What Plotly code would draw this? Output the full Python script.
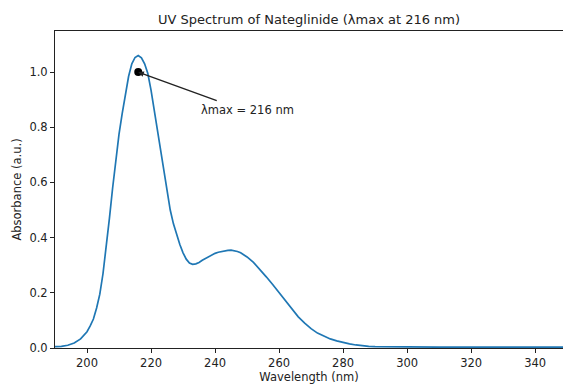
import plotly.graph_objects as go

# Wavelength (nm) and absorbance (a.u.)
wavelength = [190, 192, 194, 196, 198, 200, 201, 202, 203, 204, 205, 206, 207, 208, 209,
              210, 211, 212, 213, 214, 215, 216, 217, 218, 219, 220, 221, 222, 223, 224,
              225, 226, 227, 228, 229, 230, 231, 232, 233, 234, 235, 236, 237, 238, 239,
              240, 241, 242, 243, 244, 245, 246, 247, 248, 249, 250, 252, 254, 256, 258,
              260, 262, 264, 266, 268, 270, 272, 274, 276, 278, 280, 282, 284, 286, 288,
              290, 295, 300, 310, 320, 330, 340, 350]
absorbance = [0.005, 0.006, 0.010, 0.018, 0.033, 0.059, 0.080, 0.105, 0.145, 0.195, 0.270,
              0.360, 0.470, 0.580, 0.680, 0.775, 0.850, 0.920, 0.985, 1.030, 1.053, 1.060,
              1.052, 1.030, 0.995, 0.935, 0.862, 0.790, 0.712, 0.632, 0.560, 0.500, 0.450,
              0.410, 0.375, 0.345, 0.322, 0.308, 0.303, 0.305, 0.310, 0.318, 0.325, 0.332,
              0.338, 0.343, 0.347, 0.350, 0.353, 0.354, 0.355, 0.353, 0.350, 0.345, 0.338,
              0.330, 0.310, 0.285, 0.258, 0.230, 0.200, 0.170, 0.140, 0.113, 0.090, 0.070,
              0.054, 0.042, 0.033, 0.026, 0.020, 0.015, 0.011, 0.008, 0.006, 0.005, 0.004,
              0.003, 0.003, 0.003, 0.003, 0.003, 0.003]

lambda_max = [216]
abs_at_max = [1.0]
label_text = "λmax = 216 nm"
label_pos = [235, 0.862]
arrow_tail = [241, 0.895]

x_ticks = [200, 220, 240, 260, 280, 300, 320, 340]
y_ticks = [0.0, 0.2, 0.4, 0.6, 0.8, 1.0]

FONT = "DejaVu Sans"
INK = "#222222"

fig = go.Figure()
fig.add_trace(go.Scatter(x=wavelength, y=absorbance, mode="lines",
                         line=dict(color="#1f77b4", width=1.7),
                         showlegend=False, hoverinfo="skip"))
fig.add_trace(go.Scatter(x=lambda_max, y=abs_at_max, mode="markers",
                         marker=dict(color="black", size=8), showlegend=False))

fig.add_annotation(x=lambda_max[0], y=abs_at_max[0], ax=arrow_tail[0], ay=arrow_tail[1],
                   xref="x", yref="y", axref="x", ayref="y", text="", showarrow=True,
                   arrowhead=2, arrowsize=0.8, arrowwidth=1.4, arrowcolor=INK, standoff=0)
fig.add_annotation(x=label_pos[0], y=label_pos[1], xref="x", yref="y", text=label_text,
                   showarrow=False, xanchor="left", yanchor="middle",
                   font=dict(family=FONT, size=11.5, color=INK))

fig.update_layout(
    width=563, height=384,
    margin=dict(l=55, r=0, t=31, b=36),
    paper_bgcolor="white", plot_bgcolor="white",
    font=dict(family=FONT, size=11.5, color=INK),
    title=dict(text="UV Spectrum of Nateglinide (λmax at 216 nm)", x=0.5, xanchor="center",
               xref="paper", y=1 - 19 / 384, yref="container", yanchor="middle",
               font=dict(family=FONT, size=13, color=INK)),
)
fig.update_xaxes(range=[190, 348.7], tickvals=x_ticks, showline=True, linecolor=INK,
                 linewidth=1, mirror=True, ticks="outside", ticklen=4, tickcolor=INK,
                 showgrid=False, zeroline=False, automargin=False,
                 title=dict(text="Wavelength (nm)", standoff=2,
                            font=dict(family=FONT, size=11.5, color=INK)))
fig.update_yaxes(range=[0, 1.149], tickvals=y_ticks, tickformat=".1f", showline=True,
                 linecolor=INK, linewidth=1, ticks="outside", ticklen=4, tickcolor=INK,
                 showgrid=False, zeroline=False, automargin=False,
                 title=dict(text="Absorbance (a.u.)", standoff=5,
                            font=dict(family=FONT, size=11.5, color=INK)))

fig.write_html("out.html", config={"displayModeBar": False},
               post_script="document.body.style.margin='0px';document.body.style.overflow='hidden';")
